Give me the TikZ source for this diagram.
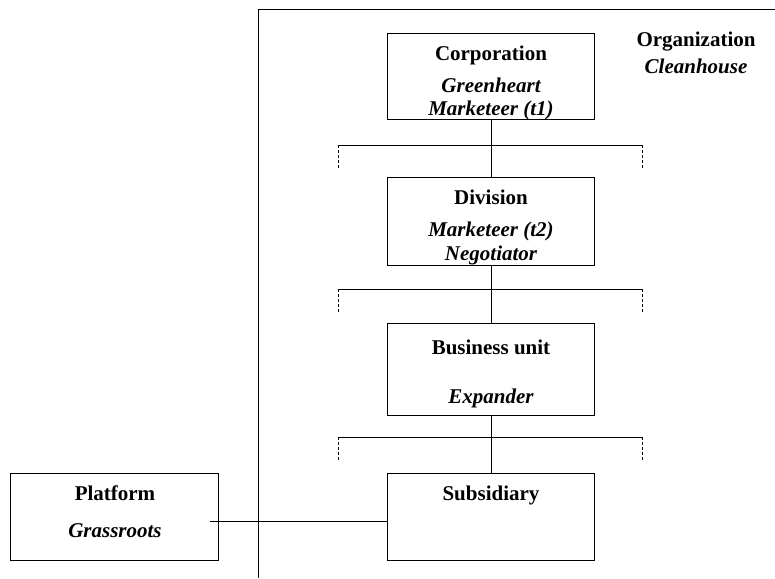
\documentclass[tikz,border=0pt]{standalone}
\usepackage{fontspec}
\setmainfont{Liberation Serif}
\begin{document}
\begin{tikzpicture}[x=1pt,y=-1pt,
  unit/.style={draw,line width=0.8pt,minimum width=207pt,anchor=north west,inner sep=0pt},
  ttl/.style={anchor=base,inner sep=0pt,font=\fontsize{21}{24}\selectfont\bfseries},
  sub/.style={anchor=base,inner sep=0pt,font=\fontsize{21}{24}\selectfont\bfseries\itshape},
  link/.style={line width=0.8pt},
  stub/.style={line width=0.8pt,dash pattern=on 3pt off 2pt}]
\useasboundingbox (0,0) rectangle (775,578);
% organization frame
\coordinate (ftop) at (258,9);
\coordinate (fright) at (775,9);
\coordinate (fbot) at (258,578);
\draw[line width=0.9pt] (fbot) -- (ftop) -- (fright);
\node[ttl] (orgt) at (696,46) {Organization};
\node[sub] (orgn) at (696,74) {Cleanhouse};
% unit boxes
\node[unit,minimum height=86pt] (corp) at (387,33) {};
\node[ttl] at (491,60) {Corporation};
\node[sub] at (491,92.5) {Greenheart};
\node[sub] at (491,115) {Marketeer (t1)};
\node[unit,minimum height=88pt] (div) at (387,177) {};
\node[ttl] at (491,204) {Division};
\node[sub] at (491,236) {Marketeer (t2)};
\node[sub] at (491,260) {Negotiator};
\node[unit,minimum height=92pt] (bu) at (387,323) {};
\node[ttl] at (491,354) {Business unit};
\node[sub] at (491,403) {Expander};
\node[unit,minimum height=87pt] (subs) at (387,473) {};
\node[ttl] at (491,500) {Subsidiary};
\node[unit,minimum height=87pt,minimum width=208pt] (plat) at (10,473) {};
\node[ttl] at (115,500) {Platform};
\node[sub] at (115,537) {Grassroots};
% hierarchy links with open brackets
\foreach \up/\dn/\y in {corp/div/145, div/bu/289, bu/subs/437}{
  \draw[link] (\up.south) -- (\dn.north);
  \draw[link] (338,\y) -- (642,\y);
  \draw[stub] (338,\y) -- (338,\y+23);
  \draw[stub] (642,\y) -- (642,\y+23);
}
% platform attached to subsidiary
\coordinate (pin) at (210,521);
\draw[link] (pin) -- (subs.west |- pin);
\end{tikzpicture}
\end{document}
